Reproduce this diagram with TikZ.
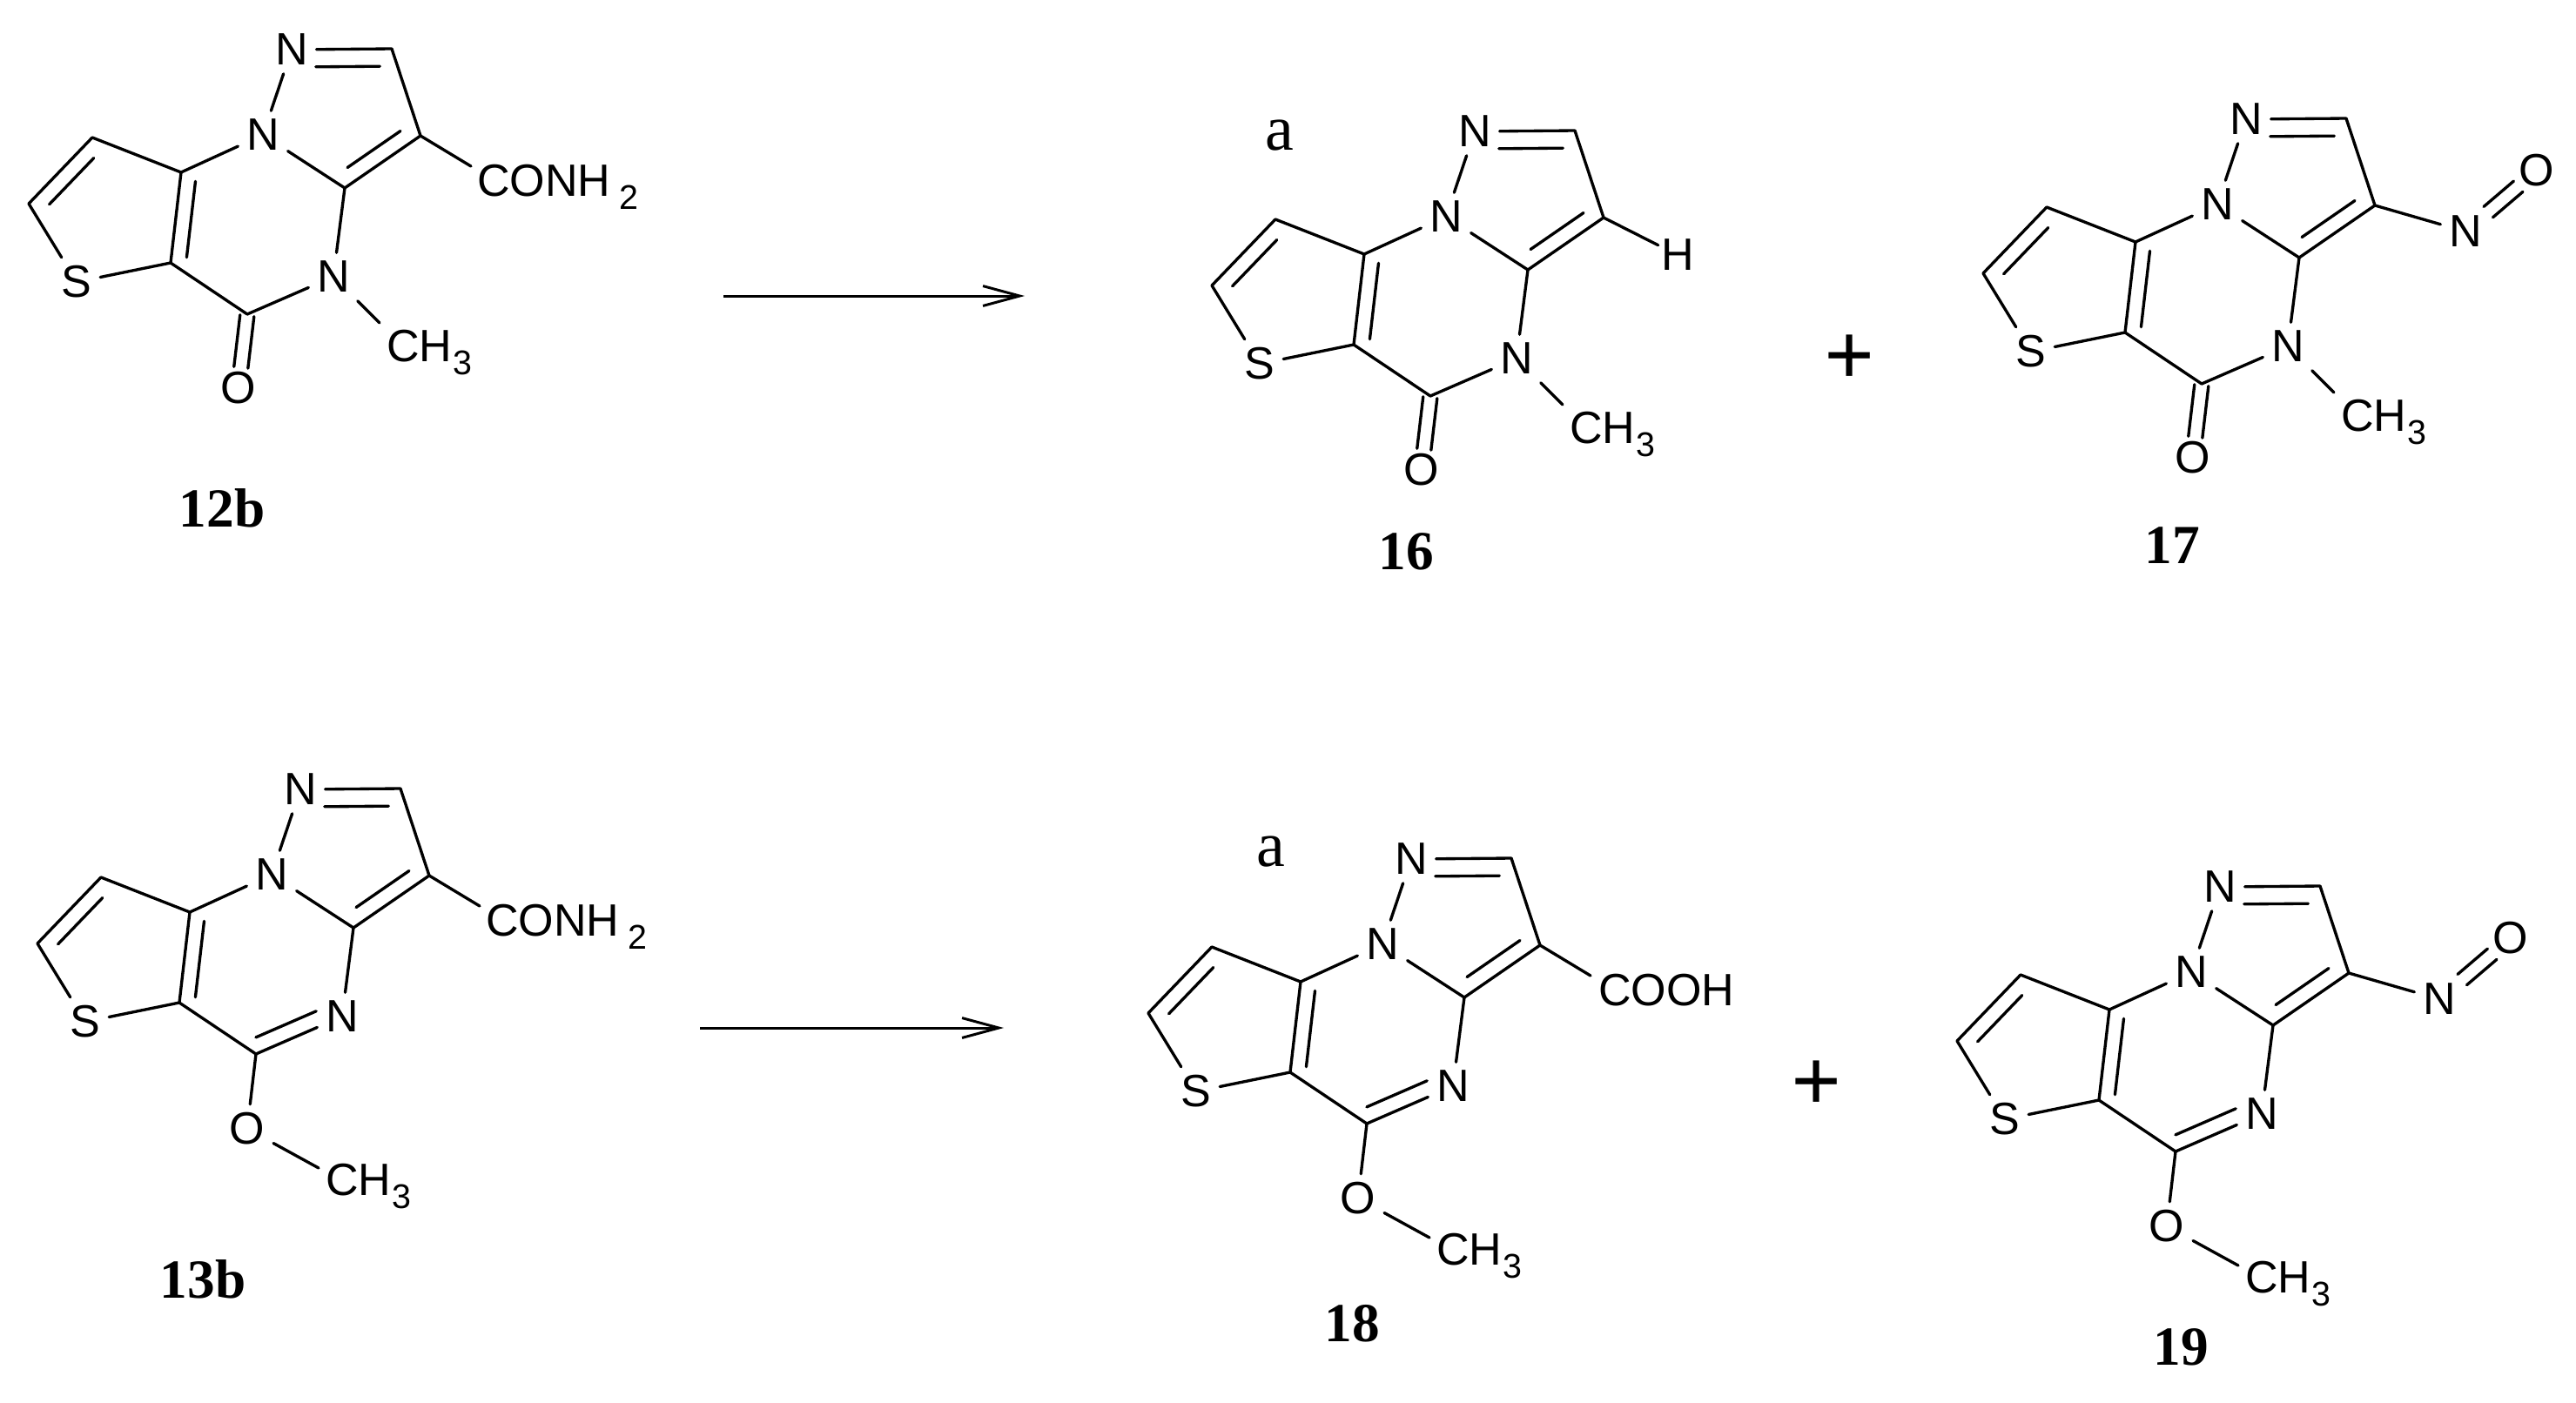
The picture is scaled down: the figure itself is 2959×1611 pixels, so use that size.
\documentclass[tikz,border=0pt]{standalone}
\usepackage{fontspec}
\setmainfont{Liberation Serif}
\setsansfont{Liberation Sans}
\usetikzlibrary{arrows.meta}
\usetikzlibrary{calc}

\tikzset{
    atom/.style={font=\sffamily\fontsize{14.8}{14.8}\selectfont, inner sep=2.8pt, outer sep=0pt},
    group/.style={font=\sffamily\fontsize{14.8}{14.8}\selectfont, inner sep=0pt, outer sep=0pt, anchor=base west},
    bond/.style={line width=0.95pt, line cap=round, line join=round},
    cmpd/.style={font=\rmfamily\bfseries\fontsize{18}{18}\selectfont, inner sep=0pt},
    note/.style={font=\rmfamily\fontsize{21}{21}\selectfont, inner sep=0pt},
    plus/.style={font=\rmfamily\bfseries\fontsize{29}{29}\selectfont, inner sep=0pt},
    reaction/.style={line width=0.85pt, -{Straight Barb[length=12pt,width=6.5pt]}},
}

\newcommand{\subnum}[1]{\kern0.4pt\raisebox{-4.4pt}{\fontsize{11.2}{11.2}\selectfont #1}}
\newcommand{\innerbond}[5]{\draw[bond] ($(#1)!#3!(#2)!#5!90:(#2)$) -- ($(#1)!#4!(#2)!#5!-90:(#1)$);}
\newcommand{\pairbond}[4]{\innerbond{#1}{#2}{#3}{#4}{2.3pt}\innerbond{#1}{#2}{#3}{#4}{-2.3pt}}

\newcommand{\thienocore}{
    \coordinate (ctop) at (450,56);
    \coordinate (cthree) at (483,156);
    \coordinate (cnine) at (396,216);
    \coordinate (cup) at (208,198);
    \coordinate (cdown) at (196,302);
    \coordinate (cox) at (284,361);
    \coordinate (thone) at (106,158);
    \coordinate (thtwo) at (33,234);
    \node[atom] (ntop) at (335,57) {N};
    \node[atom] (nbr) at (302,155) {N};
    \node[atom] (nlow) at (383,318) {N};
    \node[atom] (sul) at (88,324) {S};
    \draw[bond] (ntop) -- (ctop) -- (cthree) -- (cnine) -- (nbr) -- (ntop);
    \draw[bond] (nbr) -- (cup) -- (thone) -- (thtwo) -- (sul) -- (cdown) -- (cup);
    \draw[bond] (cdown) -- (cox) -- (nlow) -- (cnine);
    \innerbond{ctop}{ntop}{.12}{.76}{5.7pt}
    \innerbond{cnine}{cthree}{.15}{.85}{5pt}
    \innerbond{cup}{cdown}{.08}{.92}{5pt}
    \innerbond{thone}{thtwo}{.15}{.85}{5pt}
}

\newcommand{\lactampart}{
    \node[atom] (oxo) at (274,446) {O};
    \node[group] (methyl) at (444,415) {CH\subnum{3}};
    \coordinate (methylend) at (436,371);
    \pairbond{cox}{oxo}{.02}{.72}
    \draw[bond] (nlow) -- (methylend);
}

\newcommand{\methoxypart}{
    \node[atom] (oxy) at (274,447) {O};
    \node[group] (methyl) at (364,523) {CH\subnum{3}};
    \coordinate (methylend) at (356,492);
    \draw[bond] (cox) -- (oxy) -- (methylend);
    \innerbond{cox}{nlow}{.07}{.77}{5pt}
}

\newcommand{\amidepart}{
    \node[group] (amide) at (548,225) {CONH\kern2.6pt\subnum{2}};
    \coordinate (amideend) at (541,191);
    \draw[bond] (cthree) -- (amideend);
}

\newcommand{\nitrosopart}{
    \node[atom] (nnit) at (587,186) {N};
    \node[atom] (onit) at (669,116) {O};
    \draw[bond] (cthree) -- (nnit);
    \pairbond{nnit}{onit}{.32}{.74}
}

\begin{document}
\begin{tikzpicture}[x=0.01cm, y=-0.01cm]
    \useasboundingbox (0,0) rectangle (2959,1611);

    \begin{scope}[name prefix=mola-]
        \thienocore
        \lactampart
        \amidepart
    \end{scope}
    \begin{scope}[shift={(10,850)}, name prefix=molb-]
        \thienocore
        \methoxypart
        \amidepart
    \end{scope}
    \begin{scope}[shift={(1359,94)}, name prefix=molc-]
        \thienocore
        \lactampart
        \node[atom, inner sep=1pt] (hyd) at (568,199) {H};
        \draw[bond] (cthree) -- (hyd);
    \end{scope}
    \begin{scope}[shift={(2245,80)}, name prefix=mold-]
        \thienocore
        \lactampart
        \nitrosopart
    \end{scope}
    \begin{scope}[shift={(1286,930)}, name prefix=mole-]
        \thienocore
        \methoxypart
        \node[group] (acid) at (550,225) {COOH};
        \coordinate (acidend) at (541,191);
        \draw[bond] (cthree) -- (acidend);
    \end{scope}
    \begin{scope}[shift={(2215,962)}, name prefix=molf-]
        \thienocore
        \methoxypart
        \nitrosopart
    \end{scope}

    \node[cmpd] (namea) at (255,584) {12b};
    \node[cmpd] (nameb) at (233,1470) {13b};
    \node[cmpd] (namec) at (1615,634) {16};
    \node[cmpd] (named) at (2495,627) {17};
    \node[cmpd] (namee) at (1553,1521) {18};
    \node[cmpd] (namef) at (2505,1548) {19};

    \node[note] (notec) at (1470,156) {a};
    \node[note] (notee) at (1460,979) {a};
    \node[plus] (plusc) at (2125,414) {+};
    \node[plus] (pluse) at (2087,1248) {+};

    \coordinate (arrowastart) at (831,340);
    \coordinate (arrowaend) at (1177,340);
    \coordinate (arrowbstart) at (804,1181);
    \coordinate (arrowbend) at (1153,1181);
    \draw[reaction] (arrowastart) -- (arrowaend);
    \draw[reaction] (arrowbstart) -- (arrowbend);
\end{tikzpicture}
\end{document}
